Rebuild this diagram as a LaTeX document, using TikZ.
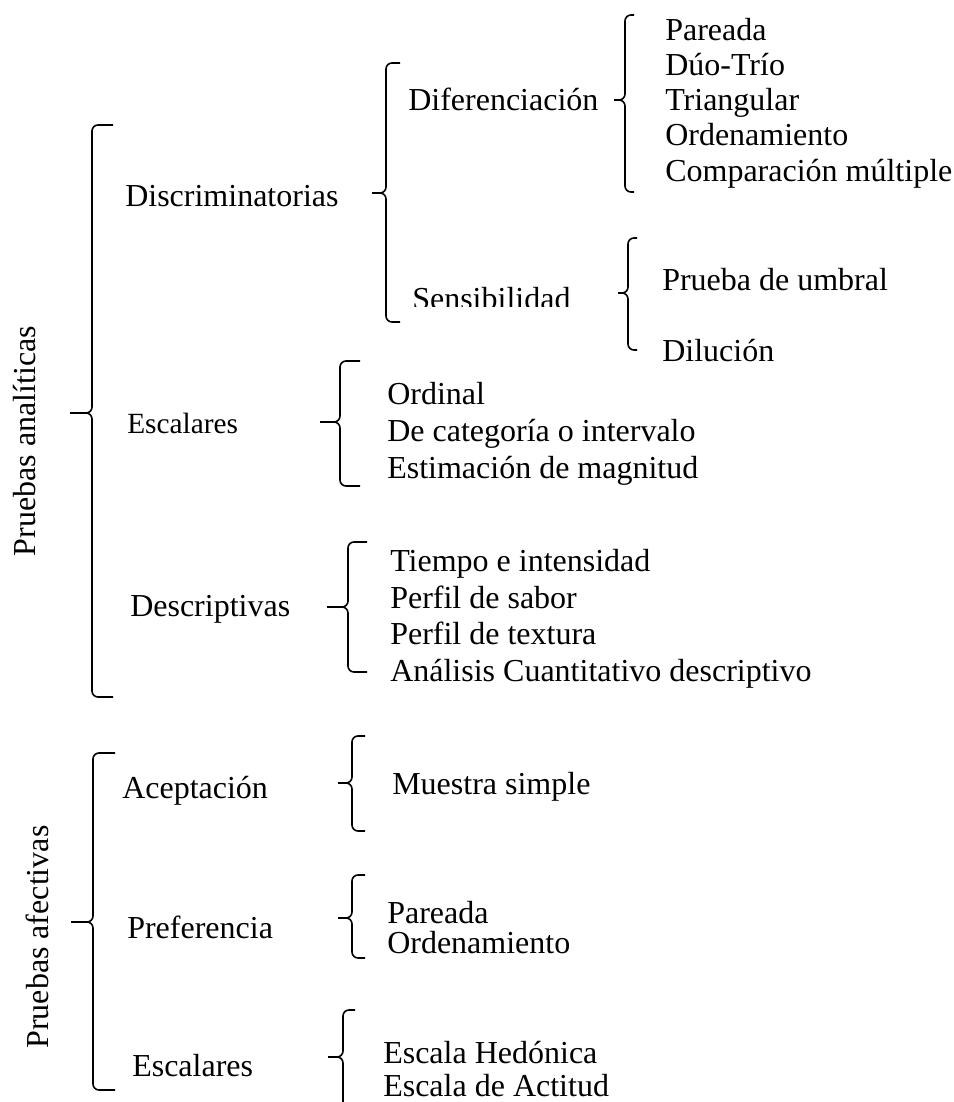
\documentclass[tikz,border=0pt]{standalone}
\usepackage{fontspec}
\setmainfont{Liberation Serif}
\newcommand\mybrace[6]{% x, top, mid, bottom, tip x, end x
  \draw[brc] (#6,#2) -- (#1,#2) -- (#1,#3) -- (#5,#3);
  \draw[brc] (#5,#3) -- (#1,#3) -- (#1,#4) -- (#6,#4);
}
\begin{document}
\begin{tikzpicture}[x=0.75pt,y=-0.75pt,
  lbl/.style={anchor=base west,inner sep=0pt,font=\fontsize{24}{28}\selectfont},
  brc/.style={line width=1.2pt,rounded corners=4.5pt,line join=round}]
\clip (0,0) rectangle (953,1102);
\fill[white] (0,0) rectangle (953,1102);
% rotated group labels
\node[lbl,rotate=90,anchor=base] (pa) at (35,441) {Pruebas analíticas};
\node[lbl,rotate=90,anchor=base] (pf) at (48,937) {Pruebas afectivas};
% braces
\mybrace{92}{125}{413}{697}{70}{113}
\mybrace{386}{63}{193}{322}{372}{400}
\mybrace{625}{15}{100}{192}{614}{634}
\mybrace{628}{238}{293}{350}{618}{637}
\mybrace{340}{361}{422}{486}{320}{360}
\mybrace{348}{542}{607}{672}{327}{367}
\mybrace{93}{753}{922}{1090}{71}{115}
\mybrace{352}{736}{783}{831}{338}{365}
\mybrace{352}{875}{918}{958}{338}{365}
\mybrace{343}{1010}{1057}{1130}{328}{355}
% analytic
\node[lbl] (disc) at (125,206) {Discriminatorias};
\node[lbl] (dif) at (408,111) {Diferenciación};
\begin{scope}
  \clip (400,260) rectangle (600,306);
  \node[lbl] (sen) at (412,309) {Sensibilidad};
\end{scope}
\node[lbl] (d1) at (665,41) {Pareada};
\node[lbl] (d2) at (665,76) {Dúo-Trío};
\node[lbl] (d3) at (665,111) {Triangular};
\node[lbl] (d4) at (665,146) {Ordenamiento};
\node[lbl] (d5) at (665,181) {Comparación múltiple};
\node[lbl] (s1) at (662,290) {Prueba de umbral};
\node[lbl] (s2) at (662,361) {Dilución};
\node[lbl,font=\fontsize{22}{26}\selectfont] (esc) at (127,433) {Escalares};
\node[lbl] (e1) at (387,404) {Ordinal};
\node[lbl] (e2) at (387,441) {De categoría o intervalo};
\node[lbl] (e3) at (387,478) {Estimación de magnitud};
\node[lbl] (desc) at (130,616) {Descriptivas};
\node[lbl] (t1) at (390,571) {Tiempo e intensidad};
\node[lbl] (t2) at (390,608) {Perfil de sabor};
\node[lbl] (t3) at (390,644) {Perfil de textura};
\node[lbl] (t4) at (390,681) {Análisis Cuantitativo descriptivo};
% affective
\node[lbl] (ace) at (122,798) {Aceptación};
\node[lbl] (pre) at (127,938) {Preferencia};
\node[lbl] (esa) at (132,1076) {Escalares};
\node[lbl] (m1) at (392,794) {Muestra simple};
\node[lbl] (p1) at (387,923) {Pareada};
\node[lbl] (p2) at (387,953) {Ordenamiento};
\node[lbl] (h1) at (383,1063) {Escala Hedónica};
\node[lbl] (h2) at (383,1096) {Escala de Actitud};
\end{tikzpicture}
\end{document}
